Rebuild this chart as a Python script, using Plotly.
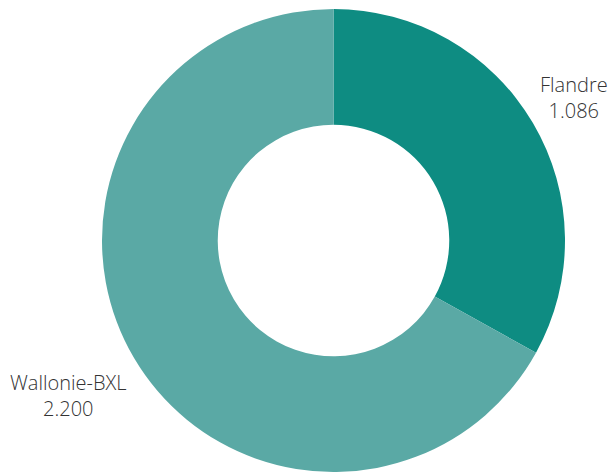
import math
import plotly.graph_objects as go

labels = ["Flandre", "Wallonie-BXL"]
values = [1086, 2200]
colors = ["#0e8c82", "#5aa9a5"]

W, H = 613, 472
MT = 9
dom_x = [101 / W, 566 / W]
dom_y = [0, 1]
plot_h = H - MT

fig = go.Figure(go.Pie(
    labels=labels,
    values=values,
    hole=0.5,
    sort=False,
    direction="clockwise",
    rotation=0,
    marker=dict(colors=colors, line=dict(width=0)),
    textinfo="none",
    hoverinfo="label+value",
    domain=dict(x=dom_x, y=dom_y),
    showlegend=False,
))

# outside labels placed at each slice's mid-angle (derived from the data)
radius_px = min((dom_x[1] - dom_x[0]) * W, (dom_y[1] - dom_y[0]) * plot_h) / 2
cx = (dom_x[0] + dom_x[1]) / 2
cy = (dom_y[0] + dom_y[1]) / 2
label_r = radius_px * 1.027
total = sum(values)
cum = 0
annotations = []
for lab, v in zip(labels, values):
    theta = 2 * math.pi * (cum + v / 2) / total
    cum += v
    sx, cyv = math.sin(theta), math.cos(theta)
    txt = f"{lab}<br>{v:,}".replace(",", ".")
    annotations.append(dict(
        x=cx + label_r * sx / W,
        y=cy + label_r * cyv / plot_h,
        xref="paper", yref="paper",
        text=txt, showarrow=False,
        xanchor="left" if sx >= 0 else "right",
        yanchor="bottom" if cyv >= 0 else "top",
        yshift=-6,
        align="center",
        font=dict(family="Open Sans", size=20, color="#333333", weight=300),
    ))

fig.update_layout(
    width=W, height=H,
    margin=dict(l=0, r=0, t=MT, b=0),
    separators=",.",
    paper_bgcolor="white",
    annotations=annotations,
)
fig.write_html("out.html")
